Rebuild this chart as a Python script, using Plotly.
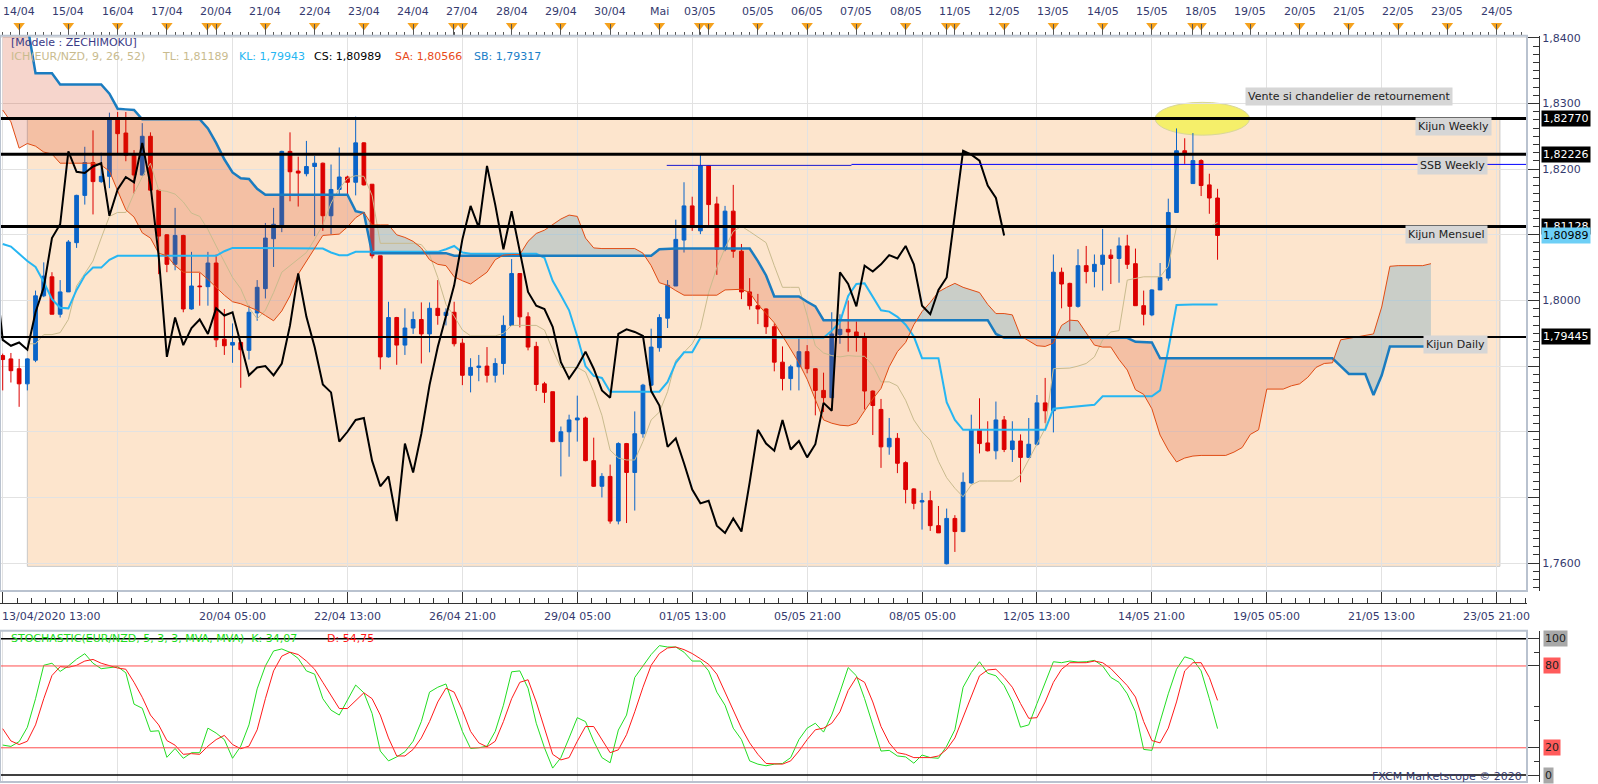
import numpy as np
import plotly.graph_objects as go

# EUR/NZD en H4, barres indexees 0..148 (13/04/2020 13:00 -> 18/05/2020)
opens = [1.7916, 1.7911, 1.7896, 1.7873, 1.7909, 1.8007, 1.8036, 1.7979, 1.8013, 1.8088,
         1.8160, 1.8210, 1.8181, 1.8189, 1.8275, 1.8255, 1.8222, 1.8191, 1.8250, 1.8168,
         1.8100, 1.8055, 1.8099, 1.7987, 1.8022, 1.8021, 1.8057, 1.7941, 1.7932, 1.7936,
         1.7924, 1.7981, 1.8018, 1.8094, 1.8114, 1.8227, 1.8197, 1.8193, 1.8204, 1.8209,
         1.8129, 1.8169, 1.8188, 1.8180, 1.8240, 1.8177, 1.8068, 1.7914, 1.7974, 1.7932,
         1.7958, 1.7971, 1.7949, 1.7988, 1.7977, 1.7982, 1.7935, 1.7886, 1.7898, 1.7900,
         1.7886, 1.7904, 1.7962, 1.8041, 1.7975, 1.7930, 1.7873, 1.7861, 1.7785, 1.7800,
         1.7818, 1.7821, 1.7756, 1.7717, 1.7732, 1.7664, 1.7782, 1.7738, 1.7797, 1.7871,
         1.7928, 1.7973, 1.8022, 1.8092, 1.8144, 1.8106, 1.8205, 1.8147, 1.8078, 1.8136,
         1.8075, 1.8013, 1.7992, 1.7987, 1.7960, 1.7906, 1.7881, 1.7899, 1.7922, 1.7896,
         1.7863, 1.7852, 1.7948, 1.7956, 1.7952, 1.7944, 1.7862, 1.7834, 1.7777, 1.7790,
         1.7753, 1.7713, 1.7693, 1.7695, 1.7657, 1.7599, 1.7668, 1.7648, 1.7722, 1.7803,
         1.7783, 1.7771, 1.7818, 1.7773, 1.7786, 1.7761, 1.7781, 1.7844, 1.7832, 1.8043,
         1.8026, 1.7991, 1.8053, 1.8044, 1.8055, 1.8069, 1.8064, 1.8083, 1.8056, 1.7992,
         1.7978, 1.8016, 1.8034, 1.8134, 1.8228, 1.8178, 1.8213, 1.8176, 1.8156]
highs = [1.7919, 1.7920, 1.7911, 1.7912, 1.8015, 1.8058, 1.8043, 1.8031, 1.8092, 1.8161,
         1.8234, 1.8259, 1.8225, 1.8286, 1.8287, 1.8287, 1.8229, 1.8270, 1.8256, 1.8168,
         1.8101, 1.8141, 1.8100, 1.8074, 1.8042, 1.8074, 1.8070, 1.7987, 1.7965, 1.7937,
         1.7992, 1.8031, 1.8118, 1.8141, 1.8228, 1.8256, 1.8219, 1.8243, 1.8220, 1.8210,
         1.8207, 1.8233, 1.8190, 1.8280, 1.8241, 1.8177, 1.8068, 1.7998, 1.7975, 1.7988,
         1.7983, 1.7997, 1.7997, 1.8031, 1.7988, 1.7998, 1.7942, 1.7912, 1.7917, 1.7929,
         1.7912, 1.7977, 1.8063, 1.8041, 1.7982, 1.7937, 1.7876, 1.7861, 1.7808, 1.7826,
         1.7855, 1.7823, 1.7791, 1.7737, 1.7750, 1.7784, 1.7783, 1.7831, 1.7873, 1.7957,
         1.7979, 1.8031, 1.8123, 1.8180, 1.8158, 1.8224, 1.8206, 1.8158, 1.8144, 1.8176,
         1.8086, 1.8034, 1.8010, 1.7988, 1.7965, 1.7930, 1.7902, 1.7942, 1.7932, 1.7897,
         1.7890, 1.7982, 1.7979, 1.8000, 1.7968, 1.7951, 1.7863, 1.7850, 1.7821, 1.7798,
         1.7755, 1.7714, 1.7707, 1.7710, 1.7687, 1.7683, 1.7673, 1.7738, 1.7826, 1.7851,
         1.7816, 1.7846, 1.7824, 1.7816, 1.7796, 1.7821, 1.7856, 1.7882, 1.8070, 1.8050,
         1.8027, 1.8078, 1.8083, 1.8070, 1.8109, 1.8078, 1.8096, 1.8100, 1.8079, 1.8015,
         1.8017, 1.8057, 1.8155, 1.8262, 1.8247, 1.8255, 1.8215, 1.8193, 1.8170]
lows = [1.7863, 1.7875, 1.7838, 1.7863, 1.7906, 1.8005, 1.7979, 1.7974, 1.8013, 1.8080,
        1.8146, 1.8131, 1.8179, 1.8171, 1.8224, 1.8212, 1.8163, 1.8190, 1.8167, 1.8040,
        1.8043, 1.8046, 1.7982, 1.7986, 1.7992, 1.7992, 1.7929, 1.7917, 1.7905, 1.7867,
        1.7910, 1.7969, 1.8003, 1.8051, 1.8104, 1.8151, 1.8143, 1.8189, 1.8098, 1.8106,
        1.8101, 1.8161, 1.8161, 1.8160, 1.8175, 1.8064, 1.7895, 1.7913, 1.7902, 1.7917,
        1.7949, 1.7904, 1.7921, 1.7963, 1.7962, 1.7930, 1.7871, 1.7860, 1.7877, 1.7875,
        1.7875, 1.7887, 1.7961, 1.7959, 1.7924, 1.7862, 1.7844, 1.7784, 1.7732, 1.7762,
        1.7785, 1.7755, 1.7716, 1.7700, 1.7660, 1.7659, 1.7661, 1.7680, 1.7791, 1.7870,
        1.7922, 1.7958, 1.8022, 1.8073, 1.8106, 1.8101, 1.8113, 1.8039, 1.8075, 1.8065,
        1.8002, 1.7986, 1.7964, 1.7949, 1.7892, 1.7863, 1.7863, 1.7863, 1.7889, 1.7825,
        1.7830, 1.7851, 1.7934, 1.7922, 1.7922, 1.7834, 1.7795, 1.7745, 1.7765, 1.7737,
        1.7691, 1.7682, 1.7651, 1.7649, 1.7646, 1.7598, 1.7617, 1.7647, 1.7721, 1.7767,
        1.7770, 1.7758, 1.7769, 1.7754, 1.7723, 1.7761, 1.7779, 1.7813, 1.7799, 1.7988,
        1.7953, 1.7989, 1.8026, 1.8020, 1.8015, 1.8025, 1.8027, 1.8048, 1.7992, 1.7962,
        1.7976, 1.8016, 1.8030, 1.8134, 1.8208, 1.8178, 1.8159, 1.8132, 1.8062]
closes = [1.7910, 1.7893, 1.7873, 1.7911, 1.8007, 1.8037, 1.7979, 1.8013, 1.8089, 1.8160,
          1.8210, 1.8181, 1.8189, 1.8275, 1.8254, 1.8221, 1.8191, 1.8250, 1.8168, 1.8098,
          1.8055, 1.8099, 1.7987, 1.8022, 1.8021, 1.8057, 1.7940, 1.7931, 1.7936, 1.7925,
          1.7982, 1.8020, 1.8095, 1.8116, 1.8227, 1.8196, 1.8194, 1.8204, 1.8209, 1.8129,
          1.8169, 1.8188, 1.8180, 1.8240, 1.8176, 1.8068, 1.7914, 1.7974, 1.7932, 1.7958,
          1.7971, 1.7949, 1.7988, 1.7977, 1.7982, 1.7934, 1.7886, 1.7898, 1.7900, 1.7886,
          1.7904, 1.7962, 1.8041, 1.7975, 1.7929, 1.7872, 1.7860, 1.7785, 1.7800, 1.7818,
          1.7821, 1.7756, 1.7717, 1.7732, 1.7664, 1.7782, 1.7738, 1.7797, 1.7871, 1.7929,
          1.7974, 1.8023, 1.8093, 1.8144, 1.8111, 1.8205, 1.8146, 1.8078, 1.8136, 1.8075,
          1.8013, 1.7992, 1.7987, 1.7960, 1.7906, 1.7881, 1.7899, 1.7922, 1.7896, 1.7863,
          1.7852, 1.7949, 1.7956, 1.7952, 1.7946, 1.7862, 1.7840, 1.7777, 1.7790, 1.7752,
          1.7712, 1.7691, 1.7695, 1.7657, 1.7646, 1.7668, 1.7648, 1.7723, 1.7803, 1.7782,
          1.7771, 1.7818, 1.7773, 1.7786, 1.7761, 1.7781, 1.7844, 1.7832, 1.8043, 1.8025,
          1.7991, 1.8053, 1.8044, 1.8055, 1.8069, 1.8064, 1.8083, 1.8055, 1.7992, 1.7979,
          1.8016, 1.8035, 1.8134, 1.8228, 1.8222, 1.8213, 1.8175, 1.8156, 1.8099]

# Ichimoku (9, 26, 52)
tenkan_start = 3
tenkan = [1.7934, 1.7934, 1.7948, 1.7948, 1.7951, 1.7971, 1.8022, 1.8040, 1.8060, 1.8095,
          1.8128, 1.8134, 1.8134, 1.8163, 1.8188, 1.8209, 1.8168, 1.8166, 1.8162, 1.8150,
          1.8133, 1.8128, 1.8108, 1.8083, 1.8060, 1.8035, 1.8018, 1.7989, 1.7972, 1.7985,
          1.8012, 1.8043, 1.8053, 1.8063, 1.8073, 1.8093, 1.8115, 1.8148, 1.8170, 1.8186,
          1.8190, 1.8189, 1.8160, 1.8087, 1.8087, 1.8087, 1.8087, 1.8087, 1.8085, 1.8070,
          1.8035, 1.7994, 1.7976, 1.7955, 1.7946, 1.7946, 1.7946, 1.7946, 1.7950, 1.7962,
          1.7962, 1.7962, 1.7962, 1.7955, 1.7925, 1.7898, 1.7898, 1.7898, 1.7891, 1.7861,
          1.7825, 1.7772, 1.7760, 1.7757, 1.7757, 1.7785, 1.7818, 1.7830, 1.7861, 1.7909,
          1.7921, 1.7934, 1.7957, 1.8012, 1.8050, 1.8080, 1.8105, 1.8113, 1.8105, 1.8096,
          1.8088, 1.8053, 1.8020, 1.8020, 1.8020, 1.7977, 1.7931, 1.7920, 1.7916, 1.7914,
          1.7916, 1.7915, 1.7915, 1.7901, 1.7876, 1.7876, 1.7870, 1.7848, 1.7818, 1.7800,
          1.7787, 1.7755, 1.7730, 1.7714, 1.7701, 1.7719, 1.7725, 1.7725, 1.7725, 1.7725,
          1.7725, 1.7734, 1.7757, 1.7781, 1.7805, 1.7896, 1.7897, 1.7897, 1.7900, 1.7904,
          1.7914, 1.7940, 1.7952, 1.7954, 1.8031, 1.8034, 1.8036, 1.8036, 1.8036, 1.8052,
          1.8112, 1.8112, 1.8112, 1.8112, 1.8112, 1.8119]
kijun = [1.8086, 1.8082, 1.8071, 1.8060, 1.8051, 1.8028, 1.8002, 1.7989, 1.7988, 1.8016,
         1.8038, 1.8050, 1.8050, 1.8062, 1.8068, 1.8068, 1.8068, 1.8068, 1.8068, 1.8068,
         1.8068, 1.8068, 1.8068, 1.8068, 1.8068, 1.8068, 1.8068, 1.8075, 1.8080, 1.8080,
         1.8080, 1.8080, 1.8080, 1.8080, 1.8080, 1.8080, 1.8080, 1.8080, 1.8080, 1.8079,
         1.8073, 1.8069, 1.8069, 1.8074, 1.8074, 1.8074, 1.8074, 1.8074, 1.8074, 1.8074,
         1.8074, 1.8074, 1.8074, 1.8074, 1.8078, 1.8083, 1.8073, 1.8071, 1.8071, 1.8071,
         1.8071, 1.8071, 1.8071, 1.8071, 1.8071, 1.8071, 1.8065, 1.8030, 1.8008, 1.7985,
         1.7945, 1.7900, 1.7885, 1.7882, 1.7861, 1.7861, 1.7861, 1.7861, 1.7861, 1.7861,
         1.7861, 1.7876, 1.7905, 1.7921, 1.7921, 1.7943, 1.7943, 1.7943, 1.7943, 1.7943,
         1.7943, 1.7943, 1.7943, 1.7943, 1.7943, 1.7943, 1.7943, 1.7943, 1.7943, 1.7943,
         1.7943, 1.7954, 1.7967, 1.8007, 1.8025, 1.8026, 1.8005, 1.7985, 1.7983, 1.7975,
         1.7963, 1.7945, 1.7912, 1.7912, 1.7912, 1.7845, 1.7818, 1.7803, 1.7803, 1.7803,
         1.7803, 1.7803, 1.7803, 1.7803, 1.7803, 1.7803, 1.7803, 1.7803, 1.7835, 1.7836,
         1.7838, 1.7839, 1.7840, 1.7841, 1.7854, 1.7854, 1.7854, 1.7854, 1.7854, 1.7854,
         1.7854, 1.7863, 1.7925, 1.7993, 1.7994, 1.7994, 1.7994, 1.7994, 1.7994]
senkou_a = [1.8290, 1.8272, 1.8232, 1.8239, 1.8235, 1.8226, 1.8223, 1.8209, 1.8209, 1.8209,
            1.8209, 1.8209, 1.8206, 1.8197, 1.8167, 1.8138, 1.8127, 1.8103, 1.8095, 1.8072,
            1.8068, 1.8053, 1.8043, 1.8043, 1.8043, 1.8032, 1.8020, 1.8008, 1.7998, 1.7995,
            1.7990, 1.7985, 1.7977, 1.7969, 1.7984, 1.8007, 1.8040, 1.8060, 1.8078, 1.8099,
            1.8100, 1.8101, 1.8112, 1.8126, 1.8134, 1.8115, 1.8115, 1.8115, 1.8100, 1.8096,
            1.8090, 1.8080, 1.8062, 1.8055, 1.8053, 1.8036, 1.8030, 1.8025, 1.8034, 1.8043,
            1.8062, 1.8069, 1.8070, 1.8070, 1.8090, 1.8102, 1.8107, 1.8116, 1.8124, 1.8130,
            1.8128, 1.8095, 1.8080, 1.8079, 1.8079, 1.8079, 1.8079, 1.8079, 1.8072, 1.8053,
            1.8027, 1.8023, 1.8015, 1.8008, 1.8008, 1.8008, 1.8008, 1.8008, 1.8016, 1.8017,
            1.8017, 1.8012, 1.7994, 1.7980, 1.7966, 1.7946, 1.7925, 1.7905, 1.7880, 1.7850,
            1.7818, 1.7813, 1.7810, 1.7809, 1.7813, 1.7832, 1.7850, 1.7866, 1.7899, 1.7922,
            1.7936, 1.7963, 1.7983, 1.7997, 1.8013, 1.8020, 1.8026, 1.8020, 1.8016, 1.8012,
            1.7994, 1.7980, 1.7980, 1.7978, 1.7946, 1.7938, 1.7931, 1.7930, 1.7935, 1.7962,
            1.7970, 1.7969, 1.7950, 1.7932, 1.7929, 1.7929, 1.7910, 1.7894, 1.7864, 1.7857,
            1.7835, 1.7795, 1.7772, 1.7754, 1.7760, 1.7763, 1.7764, 1.7764, 1.7764, 1.7764,
            1.7769, 1.7776, 1.7796, 1.7803, 1.7865, 1.7865, 1.7865, 1.7870, 1.7873, 1.7883,
            1.7898, 1.7904, 1.7905, 1.7940, 1.7942, 1.7944, 1.7947, 1.7949, 1.7990, 1.8052,
            1.8053, 1.8053, 1.8053, 1.8053, 1.8056]
senkou_b = [1.8470, 1.8455, 1.8440, 1.8420, 1.8346, 1.8346, 1.8346, 1.8329, 1.8329, 1.8329,
            1.8329, 1.8329, 1.8329, 1.8315, 1.8292, 1.8291, 1.8290, 1.8276, 1.8276, 1.8276,
            1.8276, 1.8276, 1.8276, 1.8276, 1.8276, 1.8262, 1.8240, 1.8215, 1.8195, 1.8186,
            1.8185, 1.8170, 1.8161, 1.8161, 1.8161, 1.8161, 1.8161, 1.8161, 1.8161, 1.8161,
            1.8161, 1.8161, 1.8161, 1.8136, 1.8133, 1.8072, 1.8072, 1.8072, 1.8072, 1.8072,
            1.8072, 1.8072, 1.8072, 1.8072, 1.8072, 1.8068, 1.8068, 1.8068, 1.8068, 1.8068,
            1.8068, 1.8068, 1.8068, 1.8068, 1.8068, 1.8068, 1.8068, 1.8068, 1.8068, 1.8068,
            1.8068, 1.8068, 1.8068, 1.8068, 1.8068, 1.8068, 1.8068, 1.8068, 1.8068, 1.8068,
            1.8078, 1.8079, 1.8079, 1.8079, 1.8079, 1.8079, 1.8079, 1.8079, 1.8079, 1.8079,
            1.8079, 1.8079, 1.8060, 1.8038, 1.8006, 1.8006, 1.8006, 1.8006, 1.7998, 1.7991,
            1.7970, 1.7970, 1.7970, 1.7970, 1.7970, 1.7970, 1.7970, 1.7970, 1.7970, 1.7970,
            1.7970, 1.7970, 1.7970, 1.7970, 1.7970, 1.7970, 1.7970, 1.7970, 1.7970, 1.7970,
            1.7970, 1.7949, 1.7943, 1.7943, 1.7943, 1.7943, 1.7943, 1.7943, 1.7943, 1.7943,
            1.7943, 1.7943, 1.7943, 1.7943, 1.7943, 1.7943, 1.7943, 1.7943, 1.7937, 1.7937,
            1.7936, 1.7912, 1.7912, 1.7912, 1.7912, 1.7912, 1.7912, 1.7912, 1.7912, 1.7912,
            1.7912, 1.7912, 1.7912, 1.7912, 1.7912, 1.7912, 1.7912, 1.7912, 1.7912, 1.7912,
            1.7912, 1.7912, 1.7912, 1.7900, 1.7888, 1.7888, 1.7888, 1.7856, 1.7886, 1.7930,
            1.7930, 1.7930, 1.7930, 1.7930, 1.7930]

# Stochastique (5, 3, 3)
stoch_k = [22, 21, 24.5, 35, 56, 80.5, 82, 76, 80, 85,
           89, 82, 78, 79, 79.5, 75, 52, 49, 32, 32.5,
           13, 19.5, 12.3, 16.4, 16.4, 34.4, 30.8, 26, 12.3, 21.2,
           36.8, 63.2, 80, 91, 92.5, 90, 85.5, 76.4, 74, 56,
           47.6, 44, 54.8, 66, 60.3, 45.2, 17.6, 10.4, 13.3, 17.1,
           24.8, 39.2, 60.8, 64.4, 66.8, 49.3, 32, 19.5, 20, 21.2,
           32, 51.2, 75.7, 76.4, 63.7, 38, 20, 5.1, 12.8, 27.2,
           42.1, 39.2, 24.8, 12.8, 9, 33, 44, 71.6, 80, 88.4,
           94.9, 93.9, 93.9, 90.1, 83.6, 83.6, 76.4, 60.8, 51.2, 34.4,
           26, 10.4, 8, 6.8, 8, 8.5, 12.8, 26, 34.4, 38,
           31.5, 44, 60.8, 78.8, 72.8, 56, 36.8, 17.6, 18.1, 14,
           13.3, 8.7, 14.7, 12.8, 12.3, 21.2, 33.2, 64.4, 75.2, 83.1,
           74.7, 72.8, 65.6, 53.6, 35.1, 36.8, 52.4, 68, 83.1, 82.4,
           83.6, 82.9, 83.1, 84.1, 80, 71.6, 68, 59.6, 46.4, 18.8,
           18.1, 39.2, 59.6, 77.6, 86.7, 84.8, 76.4, 56, 34.07]
stoch_d = [34, 25, 22.4, 24.8, 36.8, 56, 73, 79.5, 79, 80.5,
           83.6, 84.8, 82, 80, 78.5, 77.6, 68, 57, 44, 36.8,
           25.3, 21.9, 15.2, 15.7, 15.2, 21.2, 26, 29.1, 22.4, 19.3,
           21.2, 33.2, 56, 76.4, 87.2, 90.1, 88.4, 83.6, 77.6, 68,
           58.4, 48.8, 48.8, 54.8, 60.3, 56, 44, 27.2, 14, 14,
           18.8, 27.2, 39.2, 53.6, 63.7, 60.8, 47.6, 32, 23.6, 20.7,
           24.8, 39.2, 56, 68, 69.9, 53.6, 34.4, 15.2, 11.1, 12.8,
           24.8, 35.6, 35.6, 26, 16.4, 18.5, 29.6, 46.4, 64.4, 80.5,
           89.1, 93.2, 93.9, 92, 89.1, 85.3, 81.2, 74, 60.8, 46.4,
           34.4, 23.6, 15.2, 8.5, 8, 8, 10.4, 17.6, 26, 33.2,
           34.4, 38, 46.4, 62, 71.6, 68, 53.6, 35.6, 23.6, 16.4,
           15.2, 12.8, 12.8, 12.8, 14, 18.8, 27.2, 42.8, 58.4, 72.8,
           77.1, 77.6, 71.6, 64.4, 52.4, 41.6, 42.1, 53.6, 68, 77.6,
           82.4, 82.4, 82.4, 83.6, 82.4, 78.1, 71.6, 65.6, 57.2, 39.2,
           25.3, 23.6, 34.4, 53.6, 76.4, 82.4, 82.4, 71.6, 54.75]

# niveaux traces a la main
levels = [1.82770, 1.82226, 1.81128, 1.79445]
ssb_weekly = [1.82057, 1.82072]
ssb_from = [80.9, 103.4]
zone_top, zone_bottom = 1.8277, 1.7595
zone_bars = [3.0, 182.4]

# echelle du temps
grid_bars = [0, 14, 28, 42, 56, 70, 84, 98, 112, 126, 140, 154, 168, 182]
time_bars = [0, 28, 42, 56, 70, 84, 98, 112, 126, 140, 154, 168, 182]
time_labels = ["13/04/2020 13:00", "20/04 05:00", "22/04 13:00", "26/04 21:00", "29/04 05:00",
               "01/05 13:00", "05/05 21:00", "08/05 05:00", "12/05 13:00", "14/05 21:00",
               "19/05 05:00", "21/05 13:00", "23/05 21:00"]
day_marks = [2, 8, 14, 20, 24.9, 26, 32, 38, 44, 50, 54.95, 56, 62, 68, 74, 80, 84.9, 86,
             92, 98, 104, 110, 115, 116, 122, 128, 134, 140, 145, 146, 152, 158, 164, 170, 176, 182]
day_label_bars = [2, 8, 14, 20, 26, 32, 38, 44, 50, 56, 62, 68, 74, 80, 84.9, 92, 98, 104, 110,
                  116, 122, 128, 134, 140, 146, 152, 158, 164, 170, 176, 182]
day_labels = ["14/04", "15/04", "16/04", "17/04", "20/04", "21/04", "22/04", "23/04", "24/04",
              "27/04", "28/04", "29/04", "30/04", "Mai", "03/05", "05/05", "06/05", "07/05", "08/05",
              "11/05", "12/05", "13/05", "14/05", "15/05", "18/05", "19/05", "20/05", "21/05",
              "22/05", "23/05", "24/05"]
price_ticks = [1.76, 1.77, 1.78, 1.79, 1.80, 1.81, 1.82, 1.83, 1.84]
price_text = ["1,7600", "", "", "", "1,8000", "", "1,8200", "1,8300", "1,8400"]

W, H = 1598, 784
PW = 1540
def fx(px):
    return px / PW
def fy(py):
    return 1 - py / H

FONT = "DejaVu Sans"
NAVY = "#353a6e"
BLUE = "#0a64c8"
RED = "#dc0000"
GRID = "#e2e2e2"
SALMON = "rgba(210,45,0,0.2)"
GREY = "rgba(110,165,190,0.36)"
XR = [-0.33, 185.7]

fig = go.Figure()
bars = np.arange(len(closes))
fig.add_trace(go.Candlestick(
    x=bars, open=opens, high=highs, low=lows, close=closes,
    increasing=dict(line=dict(color=BLUE, width=1), fillcolor=BLUE),
    decreasing=dict(line=dict(color=RED, width=1), fillcolor=RED),
    whiskerwidth=0, hoverinfo="skip", xaxis="x", yaxis="y"))

# nuage (kumo) : gris si SA > SB, saumon sinon
def cloud_polygons(xs, a, b):
    polys = []
    px, pa, pb = [xs[0]], [a[0]], [b[0]]
    up = a[0] >= b[0]
    for k in range(1, len(xs)):
        now = a[k] >= b[k]
        if now != up:
            d0 = a[k - 1] - b[k - 1]
            d1 = a[k] - b[k]
            t = d0 / (d0 - d1)
            xc = xs[k - 1] + t * (xs[k] - xs[k - 1])
            yc = a[k - 1] + t * (a[k] - a[k - 1])
            px.append(xc); pa.append(yc); pb.append(yc)
            polys.append((px, pa, pb, up))
            px, pa, pb = [xc], [yc], [yc]
            up = now
        px.append(xs[k]); pa.append(a[k]); pb.append(b[k])
    polys.append((px, pa, pb, up))
    return polys

kumo_x = list(range(len(senkou_a)))
for px, pa, pb, up in cloud_polygons(kumo_x, senkou_a, senkou_b):
    fig.add_trace(go.Scatter(x=px + px[::-1], y=pa + pb[::-1], fill="toself",
                             fillcolor=GREY if up else SALMON, mode="lines",
                             line=dict(width=0), hoverinfo="skip"))

fig.add_trace(go.Scatter(x=np.arange(tenkan_start, tenkan_start + len(tenkan)), y=tenkan,
                         mode="lines", line=dict(color="#c9bb8e", width=1), hoverinfo="skip"))
fig.add_trace(go.Scatter(x=np.arange(len(kijun)), y=kijun, mode="lines",
                         line=dict(color="#26b6f2", width=2), hoverinfo="skip"))
fig.add_trace(go.Scatter(x=kumo_x, y=senkou_b, mode="lines",
                         line=dict(color="#1a7cc0", width=2.5), hoverinfo="skip"))
fig.add_trace(go.Scatter(x=kumo_x, y=senkou_a, mode="lines",
                         line=dict(color="#e04c14", width=1), hoverinfo="skip"))
# chikou = cloture decalee de 26 barres
fig.add_trace(go.Scatter(x=np.arange(-1, len(closes) - 26), y=closes[25:], mode="lines",
                         line=dict(color="black", width=2), hoverinfo="skip"))

# stochastique
fig.add_trace(go.Scatter(x=bars, y=stoch_k, mode="lines", line=dict(color="#22dd22", width=1),
                         xaxis="x2", yaxis="y2", hoverinfo="skip"))
fig.add_trace(go.Scatter(x=bars, y=stoch_d, mode="lines", line=dict(color="#ff1a1a", width=1),
                         xaxis="x2", yaxis="y2", hoverinfo="skip"))

# bandeau des jours
fig.add_trace(go.Scatter(x=day_marks, y=[0.3] * len(day_marks), mode="markers",
                         marker=dict(symbol="triangle-down", size=10, color="#f5a21e"),
                         xaxis="x3", yaxis="y3", hoverinfo="skip"))
fig.add_trace(go.Scatter(x=[], y=[], xaxis="x4", yaxis="y4"))

xdom = [0, fx(1527)]
fig.update_layout(
    width=W, height=H, margin=dict(l=0, r=W - PW, t=0, b=0),
    paper_bgcolor="white", plot_bgcolor="white", showlegend=False, boxgap=0.35,
    font=dict(family=FONT, size=11, color=NAVY),
    xaxis=dict(domain=xdom, range=XR, anchor="y", tickmode="array", tickvals=grid_bars,
               ticks="", showticklabels=False, showgrid=True, gridcolor=GRID, zeroline=False,
               rangeslider=dict(visible=False)),
    xaxis2=dict(domain=xdom, range=XR, anchor="y2", matches="x", tickmode="array",
                tickvals=grid_bars, ticks="", showticklabels=False, showgrid=True,
                gridcolor=GRID, zeroline=False),
    xaxis3=dict(domain=xdom, range=XR, anchor="y3", matches="x", tickmode="array",
                tickvals=day_marks, ticks="inside", ticklen=11, tickcolor="#555",
                showticklabels=False, showgrid=False, zeroline=False, showline=True,
                linecolor="#8a8a8a",
                minor=dict(ticks="inside", tick0=0, dtick=1, ticklen=3, tickcolor="#555")),
    xaxis4=dict(domain=xdom, range=XR, anchor="y4", matches="x", tickmode="array",
                tickvals=grid_bars, ticks="inside", ticklen=12, tickcolor="#333",
                showticklabels=False, showgrid=False, zeroline=False, showline=True,
                linecolor="#333",
                minor=dict(ticks="inside", tick0=0, dtick=1.75, ticklen=5, tickcolor="#333")),
    yaxis=dict(domain=[fy(590), fy(32)], range=[1.75575, 1.8403], anchor="free",
               position=fx(1539), side="right", tickmode="array", tickvals=price_ticks,
               ticktext=price_text, ticks="inside", ticklen=13, tickcolor="#333",
               showline=True, linecolor="#333", showgrid=True, gridcolor=GRID, zeroline=False,
               tickfont=dict(family=FONT, size=11, color=NAVY),
               minor=dict(ticks="inside", tick0=1.76, dtick=0.00125, ticklen=6,
                          tickcolor="#333", showgrid=False)),
    yaxis2=dict(domain=[fy(782), fy(630)], range=[-5.1, 105.8], anchor="free",
                position=fx(1539), side="right", tickmode="array", tickvals=[0, 20, 80, 100],
                ticktext=["", "", "", ""], ticks="inside", ticklen=11, tickcolor="#333",
                showline=True, linecolor="#333", showgrid=False, zeroline=False,
                minor=dict(ticks="inside", tickmode="array", tickvals=[10, 40, 50, 90],
                           ticklen=5, tickcolor="#333", showgrid=False)),
    yaxis3=dict(domain=[fy(31), 1], range=[0, 1], visible=False),
    yaxis4=dict(domain=[fy(602), fy(590)], range=[0, 1], visible=False),
)

shapes = [
    dict(type="rect", xref="x", yref="y", x0=zone_bars[0], x1=zone_bars[1], y0=zone_bottom,
         y1=zone_top, fillcolor="#fde5cd", line=dict(color="#c8c8c8", width=1), layer="below"),
    dict(type="circle", xref="x", yref="y", x0=140.4, x1=151.9, y0=1.82517, y1=1.83017,
         fillcolor="#f5ef6a", line=dict(color="#d8d69a", width=1), layer="below"),
]
for lv, w in zip(levels, [3, 3, 3, 2]):
    shapes.append(dict(type="line", xref="x domain", yref="y", x0=0, x1=1, y0=lv, y1=lv,
                       line=dict(color="black", width=w), layer="above"))
shapes.append(dict(type="line", xref="x", yref="y", x0=ssb_from[0], x1=ssb_from[1],
                   y0=ssb_weekly[0], y1=ssb_weekly[0], line=dict(color="#1a1ad0", width=1)))
shapes.append(dict(type="line", xref="x", yref="y", x0=ssb_from[1], x1=XR[1],
                   y0=ssb_weekly[1], y1=ssb_weekly[1], line=dict(color="#0000ff", width=1)))
for lv, col, w in [(100, "black", 1.5), (0, "black", 1.5), (80, "#ff4d4d", 1), (20, "#ff4d4d", 1)]:
    shapes.append(dict(type="line", xref="x2 domain", yref="y2", x0=0, x1=1, y0=lv, y1=lv,
                       line=dict(color=col, width=w)))
for ax in ["", "2"]:
    shapes.append(dict(type="rect", xref="x%s domain" % ax, yref="y%s domain" % ax,
                       x0=0, x1=1, y0=0, y1=1, line=dict(color="#b9c2cf", width=2)))
fig.update_layout(shapes=shapes)

ann = []
def label(x, y, text, xref="paper", yref="paper", xanchor="left", color=NAVY, size=11, **kw):
    ann.append(dict(x=x, y=y, xref=xref, yref=yref, text=text, showarrow=False,
                    xanchor=xanchor, yanchor="middle",
                    font=dict(family=FONT, size=size, color=color), **kw))

label(fx(9), fy(39), "[Modele : ZECHIMOKU]", color="#3a3a86")
for px, txt, col in [(9, "ICH(EUR/NZD, 9, 26, 52)", "#c9bb8e"), (160, "TL: 1,81189", "#c9bb8e"),
                     (237, "KL: 1,79943", "#26b6f2"), (312, "CS: 1,80989", "black"),
                     (393, "SA: 1,80566", "#e84a1a"), (472, "SB: 1,79317", "#1a7ec8")]:
    label(fx(px), fy(53), txt, color=col)

box = dict(bgcolor="#d6d6d6", borderpad=2)
label(fx(1453), 1.83108, "Vente si chandelier de retournement", yref="y", xanchor="right",
      color="#222", **box)
label(fx(1492), 1.82653, "Kijun Weekly", yref="y", xanchor="right", color="#222", **box)
label(fx(1488), 1.8206, "SSB Weekly", yref="y", xanchor="right", color="#222", **box)
label(fx(1488), 1.81006, "Kijun Mensuel", yref="y", xanchor="right", color="#222", **box)
label(fx(1488), 1.79322, "Kijun Daily", yref="y", xanchor="right", color="#222", **box)

# etiquettes de prix sur l'axe (1,81128 est en partie cache par 1,80989 comme sur l'original)
for lv in levels:
    label(fx(1541), lv, ("%.5f" % lv).replace(".", ","), yref="y", color="white",
          bgcolor="black", borderpad=1)
label(fx(1541), 1.80989, "1,80989", yref="y", color="black", bgcolor="#6dcff6", borderpad=1)

for b, t in zip(day_label_bars, day_labels):
    label(b, fy(8), t, xref="x", xanchor="center")
for b, t in zip(time_bars, time_labels):
    if b == 0:
        label(fx(0), fy(616), t)
    else:
        label(b, fy(616), t, xref="x", xanchor="center")

label(fx(9), fy(638), "STOCHASTIC(EUR/NZD, 5, 3, 3, MVA, MVA)  K: 34,07", color="#22dd22")
label(fx(325), fy(638), "D: 54,75", color="#ff1a1a")
for v, bg in [(100, "#a8a8a8"), (80, "#ff5b5b"), (20, "#ff5b5b"), (0, "#a8a8a8")]:
    label(fx(1543), v, str(v), yref="y2", color="#222", bgcolor=bg, borderpad=1)
label(fx(1524), fy(776), "FXCM Marketscope \u00a9 2020", xanchor="right")

fig.update_layout(annotations=ann)
fig.write_html("out.html", config={"displayModeBar": False},
               post_script="document.body.style.margin='0';")
